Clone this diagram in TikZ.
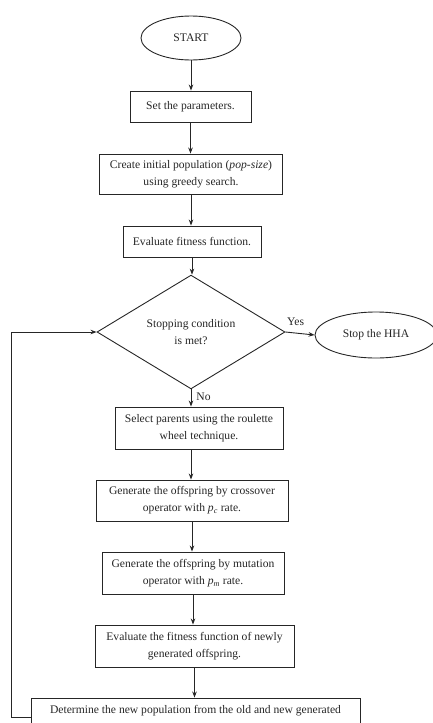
\documentclass[tikz,border=0pt]{standalone}
\usepackage{fontspec}
\setmainfont{Liberation Serif}
\usetikzlibrary{shapes.geometric,arrows.meta}
\begin{document}
\begin{tikzpicture}[x=1pt,y=-1pt,
  every node/.style={font=\fontsize{11.6}{17}\selectfont, text=black!85, align=center, inner sep=0pt},
  boxnode/.style={draw=black!85, line width=0.9pt, rectangle},
  ovalnode/.style={draw=black!85, line width=0.9pt, ellipse},
  decnode/.style={draw=black!85, line width=0.9pt, diamond},
  arr/.style={draw=black!85, line width=0.9pt, -{Stealth[length=6pt,width=4.5pt]}},
  lbl/.style={font=\fontsize{11.6}{14}\selectfont}]
\useasboundingbox (0,0) rectangle (433,723);
\clip (0,0) rectangle (433,723);
\node[ovalnode, minimum width=100pt, minimum height=44pt] (start) at (191,38) {START};
\node[boxnode, minimum width=121pt, minimum height=31pt] (set) at (190.5,106.5) {Set the parameters.};
\node[boxnode, minimum width=183pt, minimum height=40pt] (create) at (191,174) {Create initial population (\textit{pop-size})\\using greedy search.};
\node[boxnode, minimum width=138pt, minimum height=31pt] (eval) at (192,241.5) {Evaluate fitness function.};
\node[decnode, minimum width=188pt, minimum height=86pt] (dec) at (191,332) {Stopping condition\\is met?};
\node[ovalnode, minimum width=122pt, minimum height=46pt] (stop) at (376,335) {Stop the HHA};
\node[boxnode, minimum width=168pt, minimum height=42pt] (sel) at (199,428) {Select parents using the roulette\\wheel technique.};
\node[boxnode, minimum width=192pt, minimum height=41pt] (cross) at (192,500.5) {Generate the offspring by crossover\\operator with \textit{p}\textsubscript{\textit{c}} rate.};
\node[boxnode, minimum width=182pt, minimum height=42pt] (mut) at (193,573) {Generate the offspring by mutation\\operator with \textit{p}\textsubscript{\textit{m}} rate.};
\node[boxnode, minimum width=199pt, minimum height=42pt] (evn) at (194.5,646) {Evaluate the fitness function of newly\\generated offspring.};
\node[boxnode, minimum width=329pt, minimum height=44pt, text depth=22pt] (det) at (195.5,720) {Determine the new population from the old and new generated};
\draw[arr] (start.south) -- (start.south |- set.north);
\draw[arr] (set.south) -- (set.south |- create.north);
\draw[arr] (create.south) -- (create.south |- eval.north);
\draw[arr] (eval.south) -- (eval.south |- dec.north);
\draw[arr] (dec.south) -- (dec.south |- sel.north) node[lbl, pos=0.45, right=5pt] (no) {No};
\draw[arr] (dec.south |- sel.south) -- (dec.south |- cross.north);
\draw[arr] (cross.south) -- (cross.south |- mut.north);
\draw[arr] (mut.south) -- (mut.south |- evn.north);
\draw[arr] (evn.south) -- (evn.south |- det.north);
\draw[arr] (dec.east) -- (stop.west) node[lbl, pos=0.35, above=7pt] (yes) {Yes};
\draw[arr] (det.west) ++(0,-3) coordinate (dw) -- ++(-19,0) coordinate (lc) |- (dec.west);
\end{tikzpicture}
\end{document}
